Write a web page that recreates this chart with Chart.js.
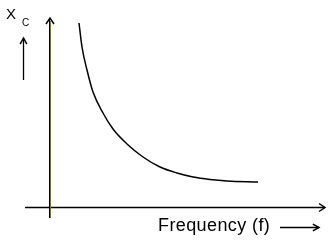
<!DOCTYPE html>
<html>
<head>
<meta charset="utf-8">
<script src="https://cdn.jsdelivr.net/npm/chart.js@4"></script>
<style>
html,body{margin:0;padding:0;background:#fff;}
#wrap{position:relative;width:332px;height:244px;}
canvas{position:absolute;left:0;top:0;}
.lbl{position:absolute;font-family:"Liberation Sans",Arial,sans-serif;color:#000;white-space:nowrap;line-height:1;}
</style>
</head>
<body>
<div id="wrap">
<canvas id="grafico" width="332" height="244"></canvas>
<div class="lbl" style="left:6px;top:6px;font-size:15px;">X</div>
<div class="lbl" style="left:22px;top:18px;font-size:10px;">C</div>
<div class="lbl" style="left:158px;top:216px;font-size:18px;letter-spacing:0.4px;">Frequency (f)</div>
</div>
<script>
// curve (frequency vs capacitive reactance, arbitrary units)
const frecuencia = [29,32,37,43,53,63,77,93,110,127,143,160,177,208]
const reactancia = [184,160,137,115,94,78,63,50,40,34,30,27.5,26,25]

const puntos = frecuencia.map((f,i) => ({x:f, y:reactancia[i]}))

function flecha(ctx,x1,y1,x2,y2){
ctx.save()
ctx.strokeStyle = "#000"
ctx.lineWidth = 1.3
ctx.beginPath()
ctx.moveTo(x1,y1)
ctx.lineTo(x2,y2)
ctx.stroke()
const ang = Math.atan2(y2-y1,x2-x1)
ctx.lineWidth = 1.5
ctx.beginPath()
ctx.moveTo(x2-7*Math.cos(ang-0.5),y2-7*Math.sin(ang-0.5))
ctx.lineTo(x2,y2)
ctx.lineTo(x2-7*Math.cos(ang+0.5),y2-7*Math.sin(ang+0.5))
ctx.stroke()
ctx.restore()
}

const ejes = {
id:"ejes",
beforeDatasetsDraw(chart){
const ctx = chart.ctx
const sx = chart.scales.x
const sy = chart.scales.y
const x0 = Math.round(sx.getPixelForValue(0))
const y0 = Math.round(sy.getPixelForValue(0))
// x axis
ctx.save()
ctx.strokeStyle = "#000"
ctx.lineWidth = 1.5
ctx.beginPath()
ctx.moveTo(25,y0+0.5)
ctx.lineTo(325,y0+0.5)
ctx.stroke()
ctx.beginPath()
ctx.moveTo(319,y0-3.5)
ctx.lineTo(325,y0+0.5)
ctx.lineTo(319,y0+4.5)
ctx.stroke()
// y axis: black + olive
ctx.lineWidth = 1
ctx.strokeStyle = "#000"
ctx.beginPath()
ctx.moveTo(x0-0.5,y0+11)
ctx.lineTo(x0-0.5,19)
ctx.stroke()
ctx.strokeStyle = "#807800"
ctx.beginPath()
ctx.moveTo(x0+0.5,y0+11)
ctx.lineTo(x0+0.5,21)
ctx.stroke()
ctx.strokeStyle = "#000"
ctx.lineWidth = 1.5
ctx.beginPath()
ctx.moveTo(x0-4,24)
ctx.lineTo(x0,18)
ctx.lineTo(x0+4,24)
ctx.stroke()
ctx.restore()
// small arrows next to labels
flecha(ctx,23.5,80,23.5,38)
flecha(ctx,280,227.5,319,227.5)
}
}

new Chart(document.getElementById("grafico"),{
type:"scatter",
data:{
datasets:[{
data:puntos,
showLine:true,
borderColor:"#000",
borderWidth:1.5,
pointRadius:0,
cubicInterpolationMode:"monotone",
fill:false
}]
},
options:{
responsive:false,
animation:false,
layout:{padding:0},
plugins:{legend:{display:false},tooltip:{enabled:false}},
scales:{
x:{type:"linear",display:false,min:-50,max:282},
y:{type:"linear",display:false,min:-37,max:207}
}
},
plugins:[ejes]
})
</script>
</body>
</html>
